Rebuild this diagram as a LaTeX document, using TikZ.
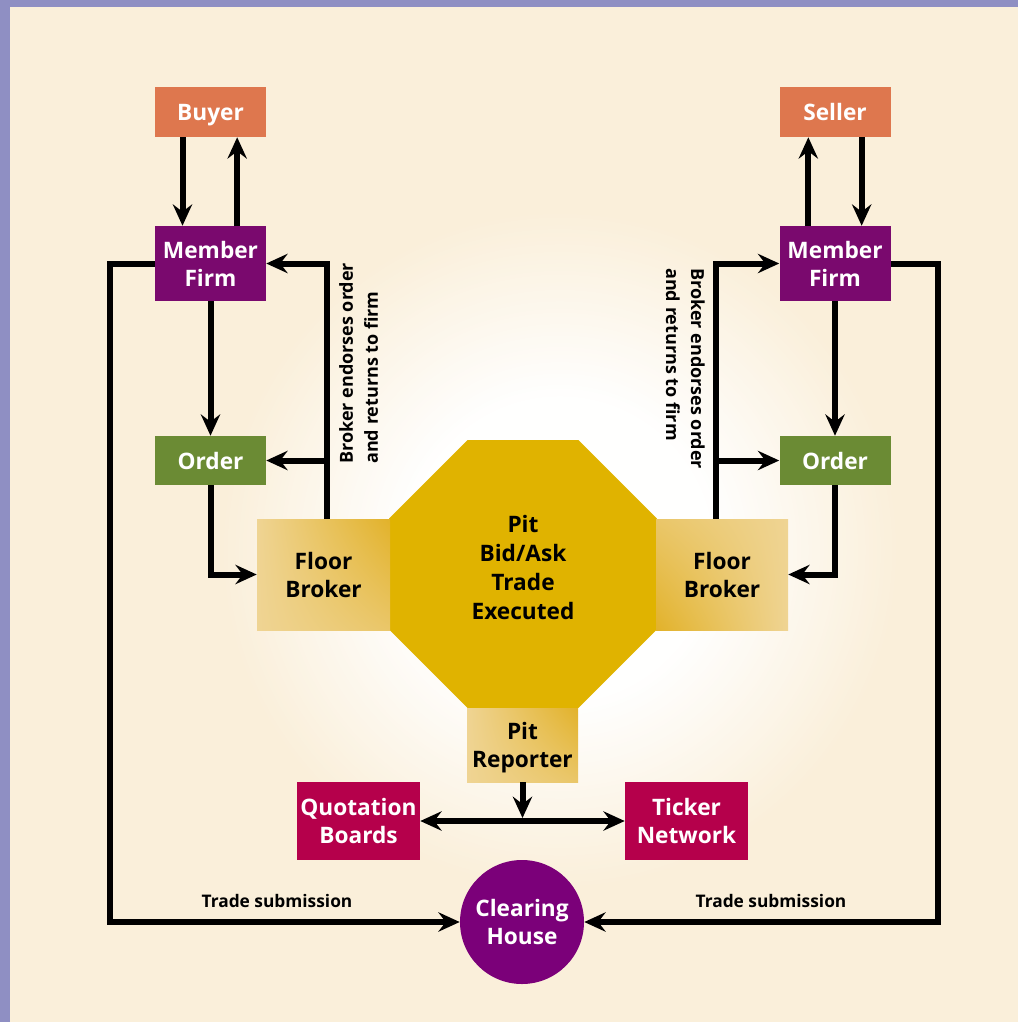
\documentclass[tikz,border=0pt]{standalone}
\usepackage{fontspec}
\setmainfont{Open Sans}
\usetikzlibrary{arrows.meta,shapes.geometric,shadings}
\definecolor{bg}{HTML}{FAEFDA}
\definecolor{frame}{HTML}{8F8FC3}
\definecolor{orangebox}{HTML}{DE774E}
\definecolor{memberbox}{HTML}{7A096E}
\definecolor{orderbox}{HTML}{6B8B34}
\definecolor{crimsonbox}{HTML}{B5004B}
\definecolor{clearbox}{HTML}{7B0079}
\definecolor{pitgold}{HTML}{E0B300}
\definecolor{tanlight}{HTML}{EFD493}
\definecolor{tandark}{HTML}{E2B22A}
\tikzset{
  box/.style={rectangle, inner sep=0pt, align=center, text=white,
    font=\bfseries\fontsize{17}{21}\selectfont,
    minimum width=83.25pt},
  tanbox/.style={box, text=black, shade},
  arr/.style={line width=4.5pt, -{Stealth[length=16pt,width=14.5pt,inset=5.5pt]}},
  arrboth/.style={line width=4.5pt, {Stealth[length=16pt,width=14.5pt,inset=5.5pt]}-{Stealth[length=16pt,width=14.5pt,inset=5.5pt]}},
  sidelabel/.style={font=\bfseries\fontsize{13.5}{18.75}\selectfont, align=left, inner sep=0pt},
  sublabel/.style={font=\bfseries\fontsize{13}{15}\selectfont, inner sep=0pt}
}
\begin{document}
\begin{tikzpicture}[x=0.75pt,y=-0.75pt]
\useasboundingbox (0,0) rectangle (1018,1022);
% background
\fill[frame] (0,0) rectangle (1018,1022);
\fill[bg] (10,7) rectangle (1018,1022);
% glow
\begin{scope}
\clip (10,7) rectangle (1018,1022);
\foreach \i in {0,...,49}{
  \pgfmathsetmacro\rr{340-3.8*\i}
  \pgfmathsetmacro\pp{2*\i}
  \fill[white!\pp!bg] (560,550) circle (\rr);
}
\end{scope}

% octagon
\node[regular polygon, regular polygon sides=8, minimum size=217.5pt, inner sep=0pt,
  fill=pitgold] (pit) at (523,574) {};
\node[align=center, inner sep=0pt, font=\bfseries\fontsize{17}{21.75}\selectfont]
  (pittext) at (523,567) {Pit\\Bid/Ask\\Trade\\Executed};

% boxes
\node[box, fill=orangebox, minimum height=37.5pt, text depth=0pt] (buyer) at (210.5,112) {Buyer};
\node[box, fill=orangebox, minimum height=37.5pt, text depth=0pt] (seller) at (835,112) {Seller};
\node[box, fill=memberbox, minimum height=56.25pt] (mf1) at (210.5,263.5) {Member\\Firm};
\node[box, fill=memberbox, minimum height=56.25pt] (mf2) at (835,263.5) {Member\\Firm};
\node[box, fill=orderbox, minimum height=36.75pt] (ord1) at (210.5,460.5) {Order};
\node[box, fill=orderbox, minimum height=36.75pt] (ord2) at (835,460.5) {Order};

\node[tanbox, minimum width=99.75pt, minimum height=83.25pt,
  lower left=tanlight, upper left=tanlight, lower right=tanlight!60!tandark, upper right=tandark]
  (fb1) at (323.5,574.5) {Floor\\Broker};
\node[tanbox, minimum width=99pt, minimum height=83.25pt,
  lower left=tandark, upper left=tanlight!60!tandark, lower right=tanlight, upper right=tanlight]
  (fb2) at (722,574.5) {Floor\\Broker};
\node[tanbox, minimum width=83.25pt, minimum height=55.5pt,
  lower left=tanlight, upper left=tanlight, lower right=tanlight!60!tandark, upper right=tandark]
  (rep) at (522.5,745) {};
\node[align=center, inner sep=0pt, font=\bfseries\fontsize{17}{21}\selectfont]
  (reptext) at (522.5,748) {Pit\\Reporter};

\node[box, fill=crimsonbox, minimum width=92.25pt, minimum height=58.5pt] (qb) at (358.5,821) {Quotation\\Boards};
\node[box, fill=crimsonbox, minimum width=92.25pt, minimum height=58.5pt] (tn) at (686.5,821) {Ticker\\Network};

\node[circle, fill=clearbox, text=white, inner sep=0pt, minimum size=93pt, align=center,
  font=\bfseries\fontsize{17}{21}\selectfont] (ch) at (522,922) {Clearing\\House};

% labels
\node[sidelabel, rotate=90, anchor=north west] (lab1) at (339,464) {Broker endorses order\\and returns to firm};
\node[sidelabel, rotate=-90, anchor=north west] (lab2) at (705,268) {Broker endorses order\\and returns to firm};
\node[sublabel] (ts1) at (277,901) {Trade submission};
\node[sublabel] (ts2) at (771,901) {Trade submission};

% connectors: buyer / seller
\draw[arr] ([xshift=-21pt]buyer.south) -- ([xshift=-21pt]mf1.north);
\draw[arr] ([xshift=20pt]mf1.north) -- ([xshift=20pt]buyer.south);
\draw[arr] ([xshift=-20pt]mf2.north) -- ([xshift=-20pt]seller.south);
\draw[arr] ([xshift=20pt]seller.south) -- ([xshift=20pt]mf2.north);

% member firm -> order
\draw[arr] (mf1.south) -- (ord1.north);
\draw[arr] (mf2.south) -- (ord2.north);

% order -> floor broker
\draw[arr] (ord1.south) |- (fb1.west);
\draw[arr] (ord2.south) |- (fb2.east);

% floor broker -> member firm and order
\coordinate (u1) at ([xshift=2.6pt]fb1.north);
\coordinate (u2) at ([xshift=-4.5pt]fb2.north);
\draw[arr] (u1) |- (mf1.east);
\draw[arr] (u1 |- ord1.east) -- (ord1.east);
\draw[arr] (u2) |- (mf2.west);
\draw[arr] (u2 |- ord2.east) -- (ord2.west);

% pit reporter
\draw[arr, shorten >=2.25pt] (rep.south) -- (rep.south |- qb.east);
\draw[arrboth] (qb.east) -- (tn.west);

% trade submission loops
\draw[arr] (mf1.west) -- ++(-45,0) |- (ch.west);
\draw[arr] (mf2.east) -- ++(47,0) |- (ch.east);
\end{tikzpicture}
\end{document}
